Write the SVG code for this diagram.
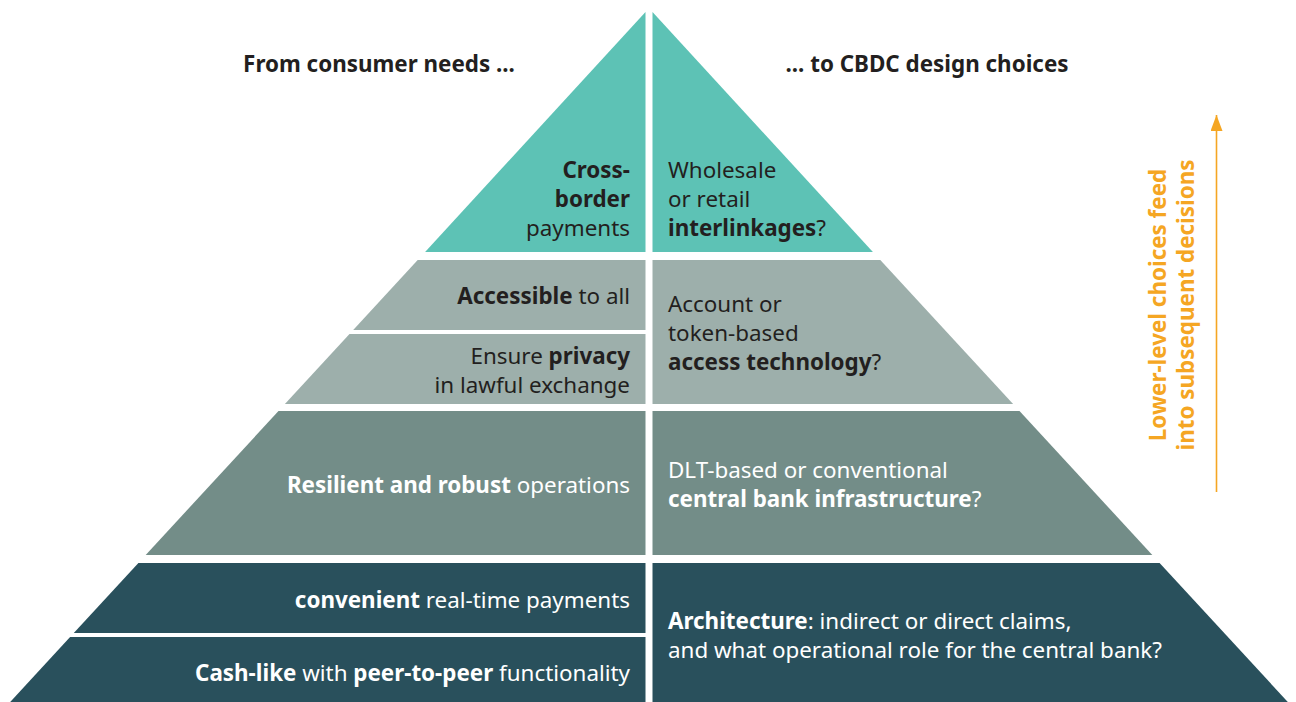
<svg xmlns="http://www.w3.org/2000/svg" width="1296" height="702" viewBox="0 0 1296 702">
<style>
text{font-family:"Noto Sans","Liberation Sans",sans-serif;font-size:22.4px}
.b{font-weight:bold}
.dk{fill:#231F20}
.wt{fill:#FFFFFF}
.t1{fill:#5DC2B5}
.t2{fill:#9DAFAB}
.t3{fill:#738D88}
.t4{fill:#29505C}
.or{fill:#F5A623;font-weight:bold}
.hd{font-weight:bold;fill:#231F20}
.l{text-anchor:end}
</style>
<defs>
<marker id="ah" viewBox="0 0 16 12" refX="16" refY="6" markerWidth="16" markerHeight="12" markerUnits="userSpaceOnUse" orient="auto">
<path d="M0,0 L16,6 L0,12 Z" fill="#F5A623"/>
</marker>
</defs>
<rect width="1296" height="702" fill="#FFFFFF"/>
<g id="headers">
<text class="hd" x="379" y="72" text-anchor="middle">From consumer needs ...</text>
<text class="hd" x="927" y="72" text-anchor="middle">... to CBDC design choices</text>
</g>
<g id="need-crossborder">
<polygon class="t1" points="645.5,12 645.5,252 425.1,252"/>
<text class="dk l" x="630" y="178"><tspan class="b">Cross-</tspan></text>
<text class="dk l" x="630" y="207"><tspan class="b">border</tspan></text>
<text class="dk l" x="630" y="236">payments</text>
</g>
<g id="choice-interlinkages">
<polygon class="t1" points="652.5,12 872.9,252 652.5,252"/>
<text class="dk" x="668" y="178">Wholesale</text>
<text class="dk" x="668" y="207">or retail</text>
<text class="dk" x="668" y="236"><tspan class="b">interlinkages</tspan>?</text>
</g>
<g id="need-accessible">
<polygon class="t2" points="417.7,260 645.5,260 645.5,330 353.2,330"/>
<text class="dk l" x="630" y="304"><tspan class="b">Accessible</tspan> to all</text>
</g>
<g id="need-privacy">
<polygon class="t2" points="349.5,334 645.5,334 645.5,404 284.9,404"/>
<text class="dk l" x="630" y="364">Ensure <tspan class="b">privacy</tspan></text>
<text class="dk l" x="630" y="393">in lawful exchange</text>
</g>
<g id="choice-access">
<polygon class="t2" points="652.5,260 880.3,260 1013.1,404 652.5,404"/>
<text class="dk" x="668" y="312">Account or</text>
<text class="dk" x="668" y="341">token-based</text>
<text class="dk" x="668" y="370"><tspan class="b">access technology</tspan>?</text>
</g>
<g id="need-resilient">
<polygon class="t3" points="278.5,411 645.5,411 645.5,555 145.7,555"/>
<text class="wt l" x="630" y="493"><tspan class="b">Resilient and robust</tspan> operations</text>
</g>
<g id="choice-infrastructure">
<polygon class="t3" points="652.5,411 1019.5,411 1152.3,555 652.5,555"/>
<text class="wt" x="668" y="478">DLT-based or conventional</text>
<text class="wt" x="668" y="507"><tspan class="b">central bank infrastructure</tspan>?</text>
</g>
<g id="need-convenient">
<polygon class="t4" points="138.4,563 645.5,563 645.5,633 73.8,633"/>
<text class="wt l" x="630" y="608"><tspan class="b">convenient</tspan> real-time payments</text>
</g>
<g id="need-cashlike">
<polygon class="t4" points="70.1,637 645.5,637 645.5,702 10.2,702"/>
<text class="wt l" x="630" y="681"><tspan class="b">Cash-like</tspan> with <tspan class="b">peer-to-peer</tspan> functionality</text>
</g>
<g id="choice-architecture">
<polygon class="t4" points="652.5,563 1159.6,563 1287.8,702 652.5,702"/>
<text class="wt" x="668" y="629"><tspan class="b">Architecture</tspan>: indirect or direct claims,</text>
<text class="wt" x="668" y="658">and what operational role for the central bank?</text>
</g>
<g id="connectors">
<line x1="1216.5" y1="492" x2="1216.5" y2="115" stroke="#F5A623" stroke-width="1.6" marker-end="url(#ah)"/>
</g>
<g id="side-note">
<text class="or" transform="translate(1166,305) rotate(-90)" text-anchor="middle">Lower-level choices feed</text>
<text class="or" transform="translate(1194,305) rotate(-90)" text-anchor="middle">into subsequent decisions</text>
</g>
</svg>
